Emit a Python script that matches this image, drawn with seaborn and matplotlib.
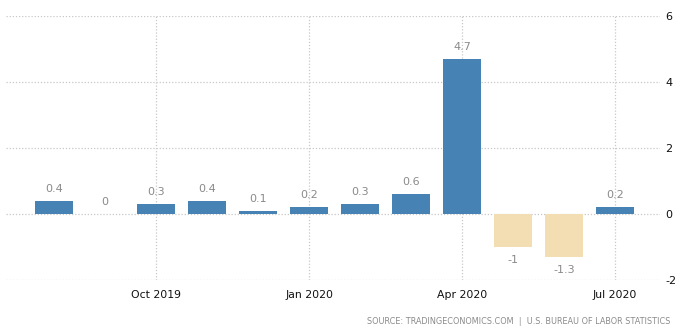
import matplotlib
matplotlib.use("Agg")
import matplotlib.pyplot as plt
import seaborn as sns
import pandas as pd

months = ["Aug 2019", "Sep 2019", "Oct 2019", "Nov 2019", "Dec 2019", "Jan 2020",
          "Feb 2020", "Mar 2020", "Apr 2020", "May 2020", "Jun 2020", "Jul 2020"]
values = [0.4, 0.0, 0.3, 0.4, 0.1, 0.2, 0.3, 0.6, 4.7, -1.0, -1.3, 0.2]
value_labels = ["0.4", "0", "0.3", "0.4", "0.1", "0.2", "0.3", "0.6", "4.7", "-1", "-1.3", "0.2"]
tick_months = ["Oct 2019", "Jan 2020", "Apr 2020", "Jul 2020"]
y_ticks = [-2, 0, 2, 4, 6]
source = "SOURCE: TRADINGECONOMICS.COM  |  U.S. BUREAU OF LABOR STATISTICS"

df = pd.DataFrame({"month": months, "value": values})
df["sign"] = ["pos" if v >= 0 else "neg" for v in values]

sns.set_theme(style="white")
plt.rcParams['font.family'] = ['DejaVu Sans']
plt.rcParams['axes.unicode_minus'] = False

fig = plt.figure(figsize=(6.82, 3.32), dpi=100)
ax = fig.add_axes([6/682, 1-280/332, (660-6)/682, (280-16)/332])

sns.barplot(data=df, x="month", y="value", hue="sign",
            palette={"pos": "#4682b4", "neg": "#f2deb2"},
            width=0.76, legend=False, ax=ax, saturation=1, order=months,
            linewidth=0, edgecolor="none")

ax.set_xlim(-0.94, 11.88)
ax.set_ylim(-2, 6)
ax.set_yticks(y_ticks)
ax.yaxis.tick_right()
ax.set_xticks([months.index(m) for m in tick_months])
ax.set_xticklabels(tick_months)
ax.set_xlabel("")
ax.set_ylabel("")
for s in ax.spines.values():
    s.set_visible(False)
ax.tick_params(axis="y", length=0, pad=4, labelsize=8, labelcolor="#111111")
ax.tick_params(axis="x", length=3, color="#cccccc", pad=4, labelsize=7.8, labelcolor="#111111")
ax.grid(True, axis="both", linestyle=(0, (1, 1.5)), color="#c8c8c8", linewidth=0.9)
ax.set_axisbelow(True)

for i, (v, lab) in enumerate(zip(values, value_labels)):
    if v >= 0:
        ax.annotate(lab, (i, v), xytext=(0, 5), textcoords="offset points",
                    ha="center", va="bottom", fontsize=8, color="#8a8a8a")
    else:
        ax.annotate(lab, (i, v), xytext=(0, -6), textcoords="offset points",
                    ha="center", va="top", fontsize=8, color="#8a8a8a")

fig.text(670/682, 1-322/332, source, ha="right", va="center", fontsize=5.9, color="#8a8a8a")

fig.savefig("out.png", dpi=100)
